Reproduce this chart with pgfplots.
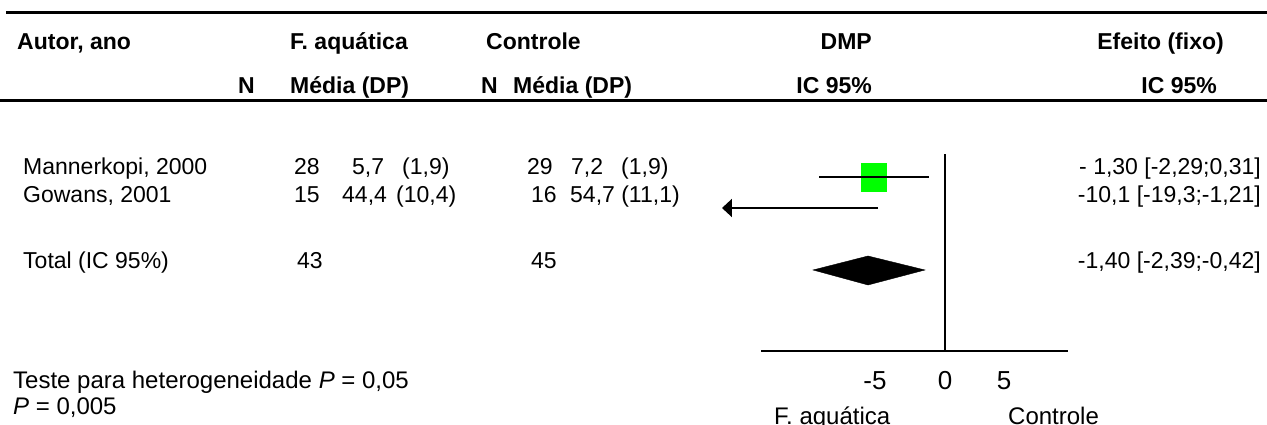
\documentclass[border=0pt]{standalone}
\usepackage{fontspec}
\setmainfont{Liberation Sans}
\usepackage{pgfplots}
\pgfplotsset{compat=1.18}
\usetikzlibrary{arrows.meta}
\definecolor{sqgreen}{HTML}{00FF00}
\newcommand{\fs}{\fontsize{23}{27}\selectfont}
\tikzset{txt/.style={font=\fs, inner sep=0pt},
         big/.style={font=\fontsize{24}{28}\selectfont, inner sep=0pt}}
\begin{document}
\begin{tikzpicture}[x=1pt,y=1pt]
% background frame in pixel units (y downwards)
\begin{axis}[at={(0pt,0pt)}, anchor=south west, scale only axis,
  width=1267pt, height=425pt, xmin=0, xmax=1267, ymin=0, ymax=425,
  y dir=reverse, hide axis, clip=false]
  \addplot[black, line width=3pt, mark=none] coordinates {(6,13) (1267,13)};
  \addplot[black, line width=3pt, mark=none] coordinates {(0,101) (1267,101)};
  % header
  \node[txt, anchor=base west] at (axis cs:17,50) {\bfseries Autor, ano};
  \node[txt, anchor=base west] at (axis cs:290,50) {\bfseries F. aquática};
  \node[txt, anchor=base west] at (axis cs:486,50) {\bfseries Controle};
  \node[txt, anchor=base east] at (axis cs:872,50) {\bfseries DMP};
  \node[txt, anchor=base east] at (axis cs:1224,50) {\bfseries Efeito (fixo)};
  \node[txt, anchor=base west] at (axis cs:238,94) {\bfseries N};
  \node[txt, anchor=base west] at (axis cs:290,94) {\bfseries Média (DP)};
  \node[txt, anchor=base west] at (axis cs:481,94) {\bfseries N};
  \node[txt, anchor=base west] at (axis cs:513,94) {\bfseries Média (DP)};
  \node[txt, anchor=base east] at (axis cs:872,94) {\bfseries IC 95\%};
  \node[txt, anchor=base east] at (axis cs:1217,94) {\bfseries IC 95\%};
  % rows
  \node[txt, anchor=base west] at (axis cs:23,175) {Mannerkopi, 2000};
  \node[txt, anchor=base west] at (axis cs:294,175) {28};
  \node[txt, anchor=base west] at (axis cs:352,175) {5,7};
  \node[txt, anchor=base west] at (axis cs:402,175) {(1,9)};
  \node[txt, anchor=base west] at (axis cs:527,175) {29};
  \node[txt, anchor=base west] at (axis cs:571,175) {7,2};
  \node[txt, anchor=base west] at (axis cs:621,175) {(1,9)};
  \node[txt, anchor=base east] at (axis cs:1261,175) {- 1,30 [-2,29;0,31]};
  \node[txt, anchor=base west] at (axis cs:23,202) {Gowans, 2001};
  \node[txt, anchor=base west] at (axis cs:294,202) {15};
  \node[txt, anchor=base west] at (axis cs:342,202) {44,4};
  \node[txt, anchor=base west] at (axis cs:396,202) {(10,4)};
  \node[txt, anchor=base west] at (axis cs:531,202) {16};
  \node[txt, anchor=base west] at (axis cs:570,202) {54,7 (11,1)};
  \node[txt, anchor=base east] at (axis cs:1261,202) {-10,1 [-19,3;-1,21]};
  \node[txt, anchor=base west] at (axis cs:23,268) {Total (IC 95\%)};
  \node[txt, anchor=base west] at (axis cs:297,268) {43};
  \node[txt, anchor=base west] at (axis cs:531,268) {45};
  \node[txt, anchor=base east] at (axis cs:1261,268) {-1,40 [-2,39;-0,42]};
  % footer
  \node[big, anchor=base west] at (axis cs:13,388) {Teste para heterogeneidade \textit{P} = 0,05};
  \node[big, anchor=base west] at (axis cs:13,414) {\textit{P} = 0,005};
  \node[big, anchor=base west] at (axis cs:774,424) {F. aquática};
  \node[big, anchor=base west] at (axis cs:1008,424) {Controle};
\end{axis}
% forest plot
\begin{axis}[at={(761pt,74pt)}, anchor=south west, scale only axis,
  width=307pt, height=197pt, xmin=-14.15, xmax=9.46, ymin=0, ymax=197,
  clip=false, axis x line*=bottom, axis y line=none,
  x axis line style={-, line width=2.5pt},
  xtick={-5,0,5}, xticklabels={{-5\kern10pt},{0},{5\kern12pt}}, major tick length=0pt,
  xtick style={draw=none},
  xticklabel style={font=\fontsize{26}{30}\selectfont, yshift=-17pt}]
  \addplot[fill=sqgreen, draw=none, mark=none] coordinates {(-6.46,159) (-4.46,159) (-4.46,188) (-6.46,188)} -- cycle;
  \addplot[black, line width=2pt, mark=none] coordinates {(-9.69,174) (-1.23,174)};
  \addplot[black, line width=2pt, mark=none, -{Triangle[length=10pt, width=18pt]}] coordinates {(-5.15,143) (-17.15,143)};
  \addplot[fill=black, draw=black, mark=none] coordinates {(-10.15,81) (-5.92,95) (-1.54,81) (-5.92,66)} -- cycle;
  \addplot[black, line width=1.8pt, mark=none] coordinates {(0,0) (0,197)};
\end{axis}
\pgfresetboundingbox
\path[use as bounding box] (0,0) rectangle (1267,425);
\end{tikzpicture}
\end{document}
